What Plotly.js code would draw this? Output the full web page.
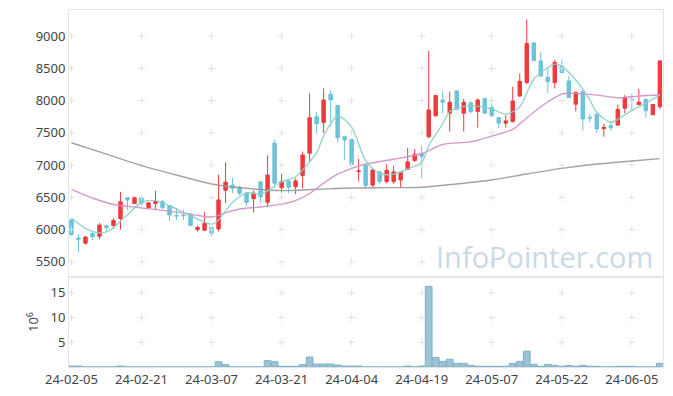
<!DOCTYPE html>
<html>
<head>
<meta charset="utf-8">
<script src="https://cdn.plot.ly/plotly-3.0.1.min.js"></script>
<style>html,body{margin:0;padding:0;background:#fff;}#chart{width:673px;height:396px;}</style>
</head>
<body>
<div id="chart"></div>
<script>
const dates = ["24-02-05","24-02-06","24-02-07","24-02-08","24-02-13","24-02-14","24-02-15","24-02-16","24-02-19","24-02-20",
"24-02-21","24-02-22","24-02-23","24-02-26","24-02-27","24-02-28","24-02-29","24-03-04","24-03-05","24-03-06",
"24-03-07","24-03-08","24-03-11","24-03-12","24-03-13","24-03-14","24-03-15","24-03-18","24-03-19","24-03-20",
"24-03-21","24-03-22","24-03-25","24-03-26","24-03-27","24-03-28","24-03-29","24-04-01","24-04-02","24-04-03",
"24-04-04","24-04-05","24-04-08","24-04-09","24-04-11","24-04-12","24-04-15","24-04-16","24-04-17","24-04-18",
"24-04-19","24-04-22","24-04-23","24-04-24","24-04-25","24-04-26","24-04-29","24-04-30","24-05-02","24-05-03",
"24-05-07","24-05-08","24-05-09","24-05-10","24-05-13","24-05-14","24-05-16","24-05-17","24-05-20","24-05-21",
"24-05-22","24-05-23","24-05-24","24-05-27","24-05-28","24-05-29","24-05-30","24-05-31","24-06-03","24-06-04",
"24-06-05","24-06-07","24-06-10","24-06-11","24-06-12"];

const open  = [6150,5870,5790,5940,5895,6060,6065,6170,6495,6405, 6495,6340,6405,6435,6375,6220,6225,6240,6000,5990,
6035,6010,6610,6690,6660,6565,6480,6740,6425,7340, 6650,6755,6665,6840,7185,7750,7660,8100,7925,7440,
7400,6900,7000,6690,6895,6745,6745,6770,6935,7070, 7170,7440,7765,8010,7805,8150,7805,7965,7830,8030,
7895,7735,7650,7675,8070,8280,8895,8615,8360,8280, 8535,8305,7945,8145,7740,7790,7565,7615,7620,7880,
8020,7940,8020,7780,7905];
const high  = [6160,5930,5900,5960,6100,6070,6175,6585,6500,6510, 6500,6420,6600,6460,6380,6335,6310,6250,6060,6275,
6040,6850,7045,6805,6675,6585,6605,6745,7150,7400, 6865,6760,6795,7210,8110,7825,8190,8165,7930,7445,
7405,7095,7005,6940,6905,7015,6990,6900,7270,7250, 7300,8770,8085,8150,8140,8160,8025,8000,8030,8040,
8020,7750,7775,8215,8420,9260,8905,8750,8500,8630, 8640,8380,8135,8150,7790,7795,7640,7675,7940,8085,
8110,8185,8025,7950,8630];
const low   = [5910,5650,5770,5840,5850,5980,6010,6000,6305,6395, 6370,6320,6315,6320,6135,6150,6150,6055,5970,5985,
5905,5970,6410,6565,6535,6365,6265,6410,6345,6655, 6575,6565,6550,6640,7055,7495,7495,7595,7345,7080,
6990,6745,6630,6655,6710,6720,6710,6655,6925,7050, 6800,7415,7750,7805,7520,7855,7520,7800,7580,7795,
7750,7570,7580,7660,8060,8255,8615,8375,8120,8190, 8420,8040,7830,7535,7665,7495,7440,7535,7605,7805,
7845,7925,7740,7775,7865];
const close = [5920,5850,5885,5890,6070,6030,6140,6430,6460,6495, 6410,6415,6435,6340,6225,6210,6215,6065,6035,6100,
5945,6460,6735,6640,6565,6420,6565,6510,6845,6720, 6745,6655,6755,7155,7735,7640,8010,8010,7425,7390,
7010,6910,6685,6925,6745,6920,6895,6885,7050,7170, 7135,7855,8080,7975,7975,7865,7975,7830,8010,7805,
7765,7650,7685,7995,8300,8885,8620,8380,8295,8595, 8435,8045,8130,7715,7730,7560,7585,7580,7865,8045,
8000,7975,7845,7940,8615];
// volume in millions of shares
const volume = [0.2,0.2,0.03,0.03,0.03,0.03,0.03,0.2,0.03,0.03, 0.03,0.03,0.03,0.03,0.03,0.03,0.03,0.03,0.03,0.03,
0.03,1.08,0.47,0.03,0.03,0.03,0.03,0.03,1.28,1.08, 0.15,0.15,0.15,0.47,2.0,0.6,0.6,0.6,0.4,0.2,
0.2,0.2,0.03,0.03,0.03,0.03,0.03,0.03,0.2,0.03, 0.2,16.3,1.95,1.14,1.55,0.74,0.74,0.34,0.15,0.15,
0.15,0.15,0.15,0.74,1.14,3.2,0.54,0.15,0.54,0.34, 0.15,0.34,0.15,0.34,0.15,0.15,0.03,0.03,0.15,0.15,
0.15,0.03,0.03,0.03,0.74];

// moving averages (index into dates, value)
const ma5Idx = [0,2,4,5,6,8,10,12,14,17,20,21,23,25,27,28,30,32,34,35,36,38,40,42,44,46,48,50,51,53,54,56,58,60,62,64,66,69,70,72,74,75,77,78,80,82,84];
const ma5Val = [6180,6020,5950,5965,6030,6230,6420,6450,6370,6215,6085,6150,6420,6570,6550,6600,6740,6820,7050,7190,7450,7760,7590,7070,6870,6860,6940,7040,7300,7640,7830,7910,7915,7870,7790,7905,8330,8565,8530,8320,8010,7820,7660,7710,7850,7960,8085];
const ma20Idx = [0,3,6,9,12,15,18,20,22,24,27,30,32,34,36,38,40,42,46,50,53,57,60,63,64,67,70,72,75,78,81,84];
const ma20Val = [6625,6490,6390,6350,6310,6270,6220,6195,6260,6320,6350,6395,6450,6560,6720,6860,6950,7017,7090,7180,7320,7360,7450,7555,7640,7905,8100,8112,8085,8045,8070,8086];
const ma120Idx = [0,5,10,15,20,25,30,35,40,45,50,55,60,65,70,75,80,84];
const ma120Val = [7347,7170,6991,6847,6708,6640,6604,6625,6646,6651,6656,6708,6770,6863,6950,7017,7064,7100];

const priceTicks = [5500,6000,6500,7000,7500,8000,8500,9000];
const volTicks = [5,10,15];
const xTickIdx = [0,10,20,30,40,50,60,70,80];

const xTicks = xTickIdx.map(i => dates[i]);

const candle = {
  type: 'candlestick', x: dates, open: open, high: high, low: low, close: close,
  xaxis: 'x', yaxis: 'y',
  increasing: {line: {color: '#ef3a3e', width: 1}, fillcolor: '#ef3a3e'},
  decreasing: {line: {color: '#6cc3da', width: 1}, fillcolor: '#6cc3da'},
  whiskerwidth: 0, hoverinfo: 'skip', showlegend: false
};
function maTrace(idx, val, color) {
  return {type: 'scatter', mode: 'lines', x: idx.map(i => dates[i]), y: val,
    xaxis: 'x', yaxis: 'y', opacity: 0.9, line: {color: color, width: 1.4, shape: 'spline', smoothing: 0.8},
    hoverinfo: 'skip', showlegend: false};
}
const vol = {
  type: 'bar', x: dates, y: volume, xaxis: 'x2', yaxis: 'y2',
  marker: {color: '#9cc3d5', line: {color: '#7fb0c7', width: 1}},
  hoverinfo: 'skip', showlegend: false
};
// grid crosses at tick intersections
const cx1 = [], cy1 = [], cx2 = [], cy2 = [];
xTicks.forEach(xt => {
  priceTicks.forEach(yt => { cx1.push(xt); cy1.push(yt); });
  volTicks.forEach(yt => { cx2.push(xt); cy2.push(yt); });
});
const crossStyle = {symbol: 'cross-thin', size: 5, color: '#e2e2e2', line: {color: '#e2e2e2', width: 1}};
const cross1 = {type: 'scatter', mode: 'markers', x: cx1, y: cy1, xaxis: 'x', yaxis: 'y', marker: crossStyle, hoverinfo: 'skip', showlegend: false};
const cross2 = {type: 'scatter', mode: 'markers', x: cx2, y: cy2, xaxis: 'x2', yaxis: 'y2', marker: crossStyle, hoverinfo: 'skip', showlegend: false};

const font = {family: 'Noto Sans, Open Sans, sans-serif', size: 13, color: '#444'};
const volDom = 90 / 357;
const xr = [-0.35, 84.45];
const layout = {
  width: 673, height: 396,
  margin: {l: 69, r: 10, t: 10, b: 29, pad: 0},
  paper_bgcolor: '#fff', plot_bgcolor: '#fff',
  font: font, showlegend: false, boxgap: 0.3, bargap: 0.04,
  xaxis: {type: 'category', categoryorder: 'array', categoryarray: dates, domain: [0, 1], anchor: 'y', range: xr, rangeslider: {visible: false},
    showticklabels: false, ticks: '', showgrid: false, zeroline: false,
    showline: true, mirror: true, linecolor: '#e4e4e4', linewidth: 1},
  xaxis2: {type: 'category', categoryorder: 'array', categoryarray: dates, domain: [0, 1], anchor: 'y2', range: xr, matches: 'x',
    tickmode: 'array', tickvals: xTicks, ticktext: xTicks, ticks: '', showgrid: false, zeroline: false,
    showline: true, mirror: true, linecolor: '#e4e4e4', linewidth: 1, tickfont: font},
  yaxis: {domain: [volDom, 1], anchor: 'x', range: [5265, 9405], tickmode: 'array', tickvals: priceTicks,
    ticks: '', ticklen: 0, showgrid: false, zeroline: false, showline: true, mirror: true,
    linecolor: '#e4e4e4', linewidth: 1, tickfont: font},
  yaxis2: {domain: [0, volDom], anchor: 'x2', range: [0, 18.2], tickmode: 'array', tickvals: volTicks,
    ticks: '', showgrid: false, zeroline: false, showline: true, mirror: true,
    linecolor: '#e4e4e4', linewidth: 1, tickfont: font,
    title: {text: '10<sup>6</sup>', font: font, standoff: 8}},
  annotations: [{text: 'InfoPointer.com', xref: 'paper', yref: 'paper', x: 0.987, y: 0.31,
    xanchor: 'right', yanchor: 'middle', showarrow: false,
    font: {family: 'Open Sans, Noto Sans, sans-serif', size: 29, color: '#c9dae5'}}]
};
Plotly.newPlot('chart', [candle, vol, cross1, cross2, maTrace(ma120Idx, ma120Val, '#999999'),
  maTrace(ma20Idx, ma20Val, '#cf8fc7'), maTrace(ma5Idx, ma5Val, '#88cfc5')],
  layout, {staticPlot: true, displayModeBar: false});
</script>
</body>
</html>
